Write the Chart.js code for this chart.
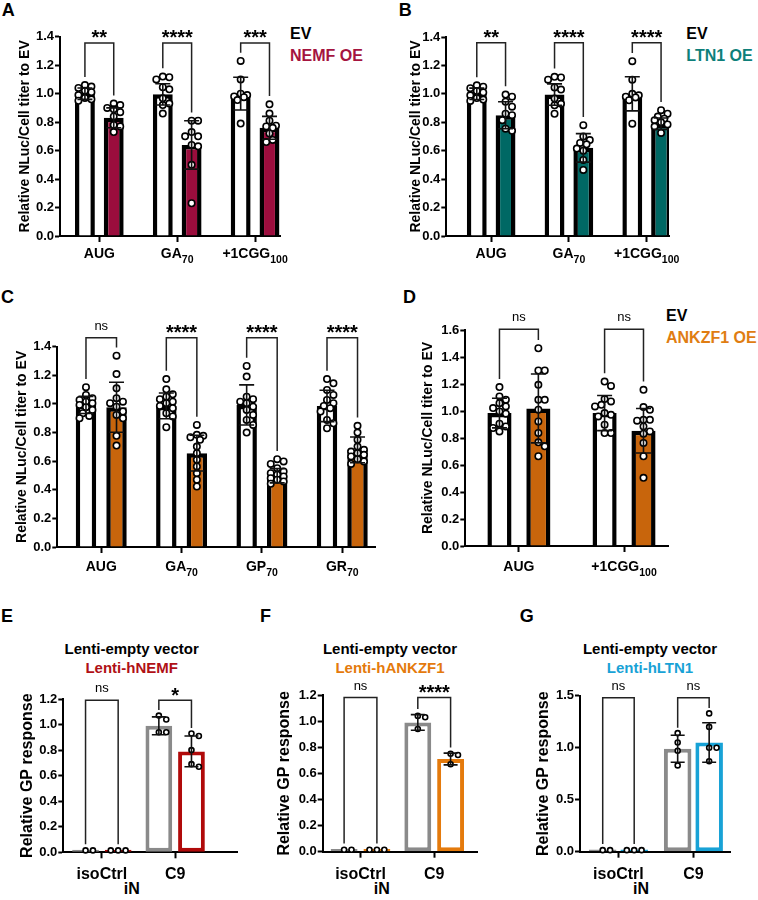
<!DOCTYPE html>
<html>
<head>
<meta charset="utf-8">
<script src="https://cdn.jsdelivr.net/npm/chart.js@4.4.0/dist/chart.umd.min.js"></script>
<style>
  body { margin: 0; background: #fff; }
  #fig { position: relative; width: 758px; height: 900px; overflow: hidden; font-family: "Liberation Sans", Arial, sans-serif; }
  #fig canvas { position: absolute; }
  .t { position: absolute; font-weight: bold; white-space: nowrap; line-height: 1; color: #000; }
  .lt { font-size: 18px; }
  .lg { font-size: 16px; }
  .ti { font-size: 15px; transform: translateX(-50%); }
  .in { font-size: 16px; transform: translateX(-50%); }
</style>
</head>
<body>
<div id="fig">
  <div class="t lt" style="left:1.7px;top:1px">A</div>
  <div class="t lt" style="left:398.7px;top:0.5px">B</div>
  <div class="t lt" style="left:1px;top:287.7px">C</div>
  <div class="t lt" style="left:403px;top:287.7px">D</div>
  <div class="t lt" style="left:1px;top:606.7px">E</div>
  <div class="t lt" style="left:260px;top:606.7px">F</div>
  <div class="t lt" style="left:519.7px;top:606.7px">G</div>

  <div class="t lg" style="left:290px;top:26.2px">EV</div>
  <div class="t lg" style="left:290px;top:47.9px;color:#a5143f">NEMF OE</div>
  <div class="t lg" style="left:686.3px;top:26.2px">EV</div>
  <div class="t lg" style="left:686.3px;top:47.9px;color:#0e7f7a">LTN1 OE</div>
  <div class="t lg" style="left:666px;top:308px">EV</div>
  <div class="t lg" style="left:666px;top:329.6px;color:#e07d12">ANKZF1 OE</div>

  <div class="t ti" style="left:131.7px;top:641.4px">Lenti-empty vector</div>
  <div class="t ti" style="left:131.7px;top:660.3px;color:#b01016">Lenti-hNEMF</div>
  <div class="t ti" style="left:390px;top:641.4px">Lenti-empty vector</div>
  <div class="t ti" style="left:390px;top:660.3px;color:#e47a0c">Lenti-hANKZF1</div>
  <div class="t ti" style="left:650px;top:641.4px">Lenti-empty vector</div>
  <div class="t ti" style="left:650px;top:660.3px;color:#18a2d6">Lenti-hLTN1</div>

  <div class="t in" style="left:131.7px;top:881.4px">iN</div>
  <div class="t in" style="left:381.7px;top:881.4px">iN</div>
  <div class="t in" style="left:641px;top:881.4px">iN</div>
</div>

<script>
// ---------- panel A : EV vs NEMF OE ----------
const aCats = ["AUG", "GA70", "+1CGG100"];
const aEV = [1.00, 0.995, 1.00];
const aOE = [0.83, 0.64, 0.76];
const aEVsd = [0.04, 0.075, 0.115];
const aOEsd = [0.07, 0.17, 0.08];
const aEVpts = [
  [1.06, 1.05, 1.04, 1.02, 1.01, 0.99, 0.97, 0.96, 0.95],
  [1.12, 1.115, 1.10, 1.045, 1.03, 0.967, 0.93, 0.92, 0.86],
  [1.23, 1.10, 1.00, 0.99, 0.98, 0.975, 0.955, 0.79]
];
const aOEpts = [
  [0.93, 0.92, 0.90, 0.89, 0.87, 0.84, 0.78, 0.77, 0.73],
  [0.81, 0.81, 0.73, 0.70, 0.70, 0.64, 0.63, 0.50, 0.23],
  [0.925, 0.86, 0.81, 0.775, 0.77, 0.76, 0.72, 0.675, 0.66]
];
const aSig = ["**", "****", "***"];

// ---------- panel B : EV vs LTN1 OE ----------
const bCats = ["AUG", "GA70", "+1CGG100"];
const bEV = [1.00, 0.995, 1.00];
const bOE = [0.85, 0.62, 0.79];
const bEVsd = [0.04, 0.075, 0.12];
const bOEsd = [0.095, 0.1, 0.04];
const bEVpts = [
  [1.06, 1.05, 1.04, 1.02, 1.01, 0.99, 0.97, 0.96, 0.95],
  [1.12, 1.115, 1.10, 1.045, 1.03, 0.967, 0.93, 0.92, 0.86],
  [1.23, 1.10, 1.00, 0.99, 0.98, 0.975, 0.955, 0.79]
];
const bOEpts = [
  [0.995, 0.98, 0.945, 0.91, 0.86, 0.85, 0.815, 0.755, 0.74],
  [0.78, 0.70, 0.675, 0.655, 0.645, 0.615, 0.60, 0.535, 0.465],
  [0.885, 0.86, 0.84, 0.825, 0.815, 0.80, 0.785, 0.77, 0.725]
];
const bSig = ["**", "****", "****"];

// ---------- panel C : EV vs ANKZF1 OE ----------
const cCats = ["AUG", "GA70", "GP70", "GR70"];
const cEV = [0.993, 0.986, 0.993, 0.986];
const cOE = [0.977, 0.656, 0.498, 0.679];
const cEVsd = [0.06, 0.09, 0.14, 0.11];
const cOEsd = [0.175, 0.125, 0.05, 0.09];
const cEVpts = [
  [1.117, 1.063, 1.04, 1.028, 1.016, 1.005, 0.993, 0.977, 0.958, 0.935, 0.916, 0.90],
  [1.174, 1.102, 1.067, 1.051, 1.033, 1.016, 1.005, 0.986, 0.97, 0.935, 0.912, 0.837],
  [1.265, 1.191, 1.051, 1.033, 1.016, 1.005, 0.981, 0.958, 0.923, 0.888, 0.853, 0.80],
  [1.174, 1.144, 1.098, 1.063, 1.028, 1.005, 0.986, 0.97, 0.947, 0.888, 0.865, 0.83]
];
const cOEpts = [
  [1.337, 1.209, 1.109, 1.04, 1.016, 1.005, 0.981, 0.947, 0.923, 0.90, 0.777, 0.709],
  [0.853, 0.784, 0.777, 0.767, 0.749, 0.702, 0.656, 0.609, 0.563, 0.516, 0.47, 0.423],
  [0.614, 0.598, 0.581, 0.551, 0.528, 0.516, 0.505, 0.493, 0.481, 0.47, 0.458, 0.442],
  [0.847, 0.80, 0.749, 0.702, 0.679, 0.667, 0.656, 0.644, 0.633, 0.614, 0.598, 0.581]
];
const cSig = ["ns", "****", "****", "****"];

// ---------- panel D : EV vs ANKZF1 OE ----------
const dCats = ["AUG", "+1CGG100"];
const dEV = [0.985, 0.985];
const dOE = [1.019, 0.854];
const dEVsd = [0.11, 0.13];
const dOEsd = [0.255, 0.165];
const dEVpts = [
  [1.177, 1.108, 1.083, 1.058, 1.034, 1.022, 0.997, 0.98, 0.906, 0.886, 0.874, 0.849],
  [1.218, 1.186, 1.088, 1.071, 1.046, 1.034, 0.985, 0.972, 0.96, 0.898, 0.837, 0.837]
];
const dOEpts = [
  [1.465, 1.30, 1.30, 1.194, 1.083, 1.083, 1.01, 0.923, 0.837, 0.768, 0.738, 0.665],
  [1.157, 1.029, 1.009, 0.935, 0.935, 0.928, 0.886, 0.849, 0.832, 0.763, 0.665, 0.505]
];
const dSig = ["ns", "ns"];

// ---------- panels E-G : iN GP response ----------
const iCats = ["isoCtrl", "C9"];
const eEV = [0.02, 0.99];
const eOE = [0.02, 0.79];
const eEVsd = [0, 0.07];
const eOEsd = [0, 0.12];
const eEVpts = [[0.015, 0.015], [1.07, 1.04, 0.94, 0.94]];
const eOEpts = [[0.015, 0.015, 0.015], [0.93, 0.91, 0.80, 0.69, 0.67]];
const eSig = ["ns", "*"];

const fEV = [0.02, 0.99];
const fOE = [0.02, 0.71];
const fEVsd = [0, 0.06];
const fOEsd = [0, 0.045];
const fEVpts = [[0.015, 0.015], [1.04, 1.03, 0.94]];
const fOEpts = [[0.015, 0.015, 0.015], [0.75, 0.74, 0.67]];
const fSig = ["ns", "****"];

const gEV = [0.02, 0.99];
const gOE = [0.02, 1.05];
const gEVsd = [0, 0.13];
const gOEsd = [0, 0.19];
const gEVpts = [[0.015, 0.015], [1.14, 1.05, 0.97, 0.83]];
const gOEpts = [[0.015, 0.015, 0.015], [1.33, 1.20, 1.00, 1.00, 0.87]];
const gSig = ["ns", "ns"];

const FONT = '"Liberation Sans", Arial, sans-serif';
Chart.defaults.font.family = FONT;
Chart.defaults.color = "#000";

// spread the dots of one bar sideways so they do not sit on top of each other
function swarm(groups, shift, ppuX, ppuY, sep, maxOff) {
  const out = [];
  const step = sep / 2;
  groups.forEach((vals, i) => {
    const placed = [];
    vals.slice().sort((a, b) => b - a).forEach(v => {
      const py = v * ppuY;
      let best = 0, bestD = -1;
      for (let k = 0; k < 40; k++) {
        const off = (k % 2 ? 1 : -1) * Math.ceil(k / 2) * step;
        if (Math.abs(off) > maxOff) break;
        let d = Infinity;
        placed.forEach(q => { d = Math.min(d, Math.hypot(q.px - off, q.py - py)); });
        if (d >= sep) { best = off; bestD = d; break; }
        if (d > bestD) { bestD = d; best = off; }
      }
      placed.push({ px: best, py: py });
      out.push({ x: i + shift + best / ppuX, y: v });
    });
  });
  return out;
}

function makePanel(p) {
  const g = p.geo;
  const cv = document.createElement("canvas");
  cv.width = g.w; cv.height = g.h;
  cv.style.left = g.left + "px"; cv.style.top = g.top + "px";
  document.getElementById("fig").appendChild(cv);

  const ppuX = (g.w - g.yW - g.padR) / (g.xmax - g.xmin);
  const ppuY = (g.h - g.padT - g.xH) / p.ymax;
  const shift = p.cp / 4;

  const barStyle = { type: "bar", order: 2, borderWidth: p.bw, borderSkipped: p.skip,
    categoryPercentage: p.cp, barPercentage: p.bp };
  const dotStyle = { type: "scatter", order: 1, clip: false, showLine: false,
    pointRadius: p.r, pointHoverRadius: p.r, pointBorderWidth: p.pbw,
    pointBackgroundColor: "#fff", pointBorderColor: "#000" };

  const deco = {
    id: "deco",
    afterDatasetsDraw(chart) {
      const ctx = chart.ctx, ys = chart.scales.y, xs = chart.scales.x;
      const barsEV = chart.getDatasetMeta(0).data, barsOE = chart.getDatasetMeta(1).data;
      ctx.save();
      ctx.strokeStyle = "#111";
      ctx.lineWidth = 1.6;
      // error bars (mean +/- SD)
      [[barsEV, p.ev, p.evSd], [barsOE, p.oe, p.oeSd]].forEach(([els, m, sd]) => {
        els.forEach((el, i) => {
          if (!sd[i]) return;
          const yt = ys.getPixelForValue(m[i] + sd[i]);
          const yb = ys.getPixelForValue(m[i] - sd[i]);
          ctx.beginPath();
          ctx.moveTo(el.x, yt); ctx.lineTo(el.x, yb);
          ctx.moveTo(el.x - p.cap, yt); ctx.lineTo(el.x + p.cap, yt);
          ctx.moveTo(el.x - p.cap, yb); ctx.lineTo(el.x + p.cap, yb);
          ctx.stroke();
        });
      });
      // significance brackets
      ctx.strokeStyle = "#222";
      ctx.lineWidth = 1.5;
      ctx.fillStyle = "#000";
      ctx.textAlign = "center";
      ctx.textBaseline = "alphabetic";
      p.sig.forEach((s, i) => {
        const x1 = barsEV[i].x, x2 = barsOE[i].x;
        const yTop = ys.getPixelForValue(p.sigY);
        const h1 = Math.max(...p.evPts[i], p.ev[i] + p.evSd[i]);
        const h2 = Math.max(...p.oePts[i], p.oe[i] + p.oeSd[i]);
        const l1 = ys.getPixelForValue(h1) - p.r - p.gap;
        const l2 = ys.getPixelForValue(h2) - p.r - p.gap;
        ctx.beginPath();
        ctx.moveTo(x1, l1); ctx.lineTo(x1, yTop); ctx.lineTo(x2, yTop); ctx.lineTo(x2, l2);
        ctx.stroke();
        if (s === "ns") {
          ctx.font = "13px " + FONT;
          ctx.fillText(s, (x1 + x2) / 2, yTop - 8);
        } else {
          ctx.font = "bold 20px " + FONT;
          ctx.fillText(s, (x1 + x2) / 2, yTop + 1.5);
        }
      });
      // category labels, trailing numbers as subscripts where asked
      ctx.textAlign = "left";
      p.cats.forEach((c, i) => {
        const m = p.subs ? c.match(/^(.*?[A-Za-z])(\d+)$/) : null;
        const base = m ? m[1] : c, sub = m ? m[2] : "";
        ctx.font = "bold " + p.lbl + "px " + FONT;
        const wb = ctx.measureText(base).width;
        ctx.font = "bold " + p.sub + "px " + FONT;
        const wsub = sub ? ctx.measureText(sub).width : 0;
        const cx = xs.getPixelForValue(i);
        const by = chart.chartArea.bottom + p.lblOff;
        const sx = cx - (wb + wsub) / 2;
        ctx.font = "bold " + p.lbl + "px " + FONT;
        ctx.fillText(base, sx, by);
        if (sub) {
          ctx.font = "bold " + p.sub + "px " + FONT;
          ctx.fillText(sub, sx + wb, by + 5);
        }
      });
      ctx.restore();
    }
  };

  return new Chart(cv, {
    data: {
      datasets: [
        Object.assign({}, barStyle, { data: p.ev.map((v, i) => ({ x: i, y: v })),
          backgroundColor: p.evFill, borderColor: p.evLine }),
        Object.assign({}, barStyle, { data: p.oe.map((v, i) => ({ x: i, y: v })),
          backgroundColor: p.oeFill, borderColor: p.oeLine }),
        Object.assign({}, dotStyle, { data: swarm(p.evPts, -shift, ppuX, ppuY, p.sep, p.maxOff) }),
        Object.assign({}, dotStyle, { data: swarm(p.oePts, shift, ppuX, ppuY, p.sep, p.maxOff) })
      ]
    },
    options: {
      responsive: false,
      animation: false,
      events: [],
      layout: { padding: { left: 0, top: g.padT, right: g.padR, bottom: 0 } },
      plugins: { legend: { display: false }, tooltip: { enabled: false } },
      scales: {
        x: {
          type: "linear", min: g.xmin, max: g.xmax, offset: false,
          afterBuildTicks: s => { s.ticks = p.cats.map((c, i) => ({ value: i })); },
          afterFit: s => { s.height = g.xH; },
          border: { display: true, color: "#000", width: 2 },
          grid: { drawOnChartArea: false, drawTicks: true, tickLength: 6, tickWidth: 2, color: "#000", offset: false },
          ticks: { display: false }
        },
        y: {
          min: 0, max: p.ymax,
          afterFit: s => { s.width = g.yW; },
          border: { display: true, color: "#000", width: 2 },
          grid: { drawOnChartArea: false, drawTicks: true, tickLength: 5, tickWidth: 2, color: "#000" },
          ticks: { stepSize: p.ystep, autoSkip: false, padding: 1, color: "#000",
            font: { family: FONT, size: 13, weight: "bold" },
            callback: v => Number(v).toFixed(1) },
          title: { display: true, text: p.ytitle, color: "#000",
            font: { family: FONT, size: p.yts, weight: "bold", lineHeight: 1.2 },
            padding: { top: p.ytX - g.left - p.yts * 0.6, bottom: 0 } }
        }
      }
    },
    plugins: [deco]
  });
}

const nlucTitle = "Relative NLuc/Cell titer to EV";
const gpTitle = "Relative GP response";
const topStyle = { ymax: 1.4, ystep: 0.2, ytitle: nlucTitle, yts: 14, bw: 4.5, skip: "start", r: 3.2, pbw: 1.6,
  sep: 6.5, maxOff: 9, cap: 7.5, gap: 5, lbl: 14, sub: 10.5, subs: true,
  evFill: "#fff", evLine: "#000", oeLine: "#000" };
const botStyle = { ystep: 0.2, ytitle: gpTitle, yts: 16, bw: 4, skip: false, r: 2.5, pbw: 1.6,
  sep: 7.5, maxOff: 11, cap: 7, gap: 3, lbl: 16, sub: 11, subs: false, lblOff: 27,
  evFill: "#fff", evLine: "#8a8a8a", oeFill: "#fff" };

makePanel(Object.assign({}, topStyle, {
  geo: { left: 0, top: 0, w: 300, h: 268, yW: 60, padT: 36.7, padR: 20, xH: 32, xmin: -0.505, xmax: 2.32 },
  cats: aCats, ev: aEV, oe: aOE, evSd: aEVsd, oeSd: aOEsd, evPts: aEVpts, oePts: aOEpts, sig: aSig,
  sigY: 1.356, cp: 0.74, bp: 0.69, ytX: 25, lblOff: 22.3, oeFill: "#9b0d3d"
}));
makePanel(Object.assign({}, topStyle, {
  geo: { left: 380, top: 0, w: 309.7, h: 268, yW: 66.3, padT: 37, padR: 20, xH: 32, xmin: -0.577, xmax: 2.287 },
  cats: bCats, ev: bEV, oe: bOE, evSd: bEVsd, oeSd: bOEsd, evPts: bEVpts, oePts: bOEpts, sig: bSig,
  sigY: 1.36, cp: 0.74, bp: 0.69, ytX: 416, lblOff: 22, oeFill: "#006864"
}));
makePanel(Object.assign({}, topStyle, {
  geo: { left: 0, top: 300, w: 380, h: 279.3, yW: 57.3, padT: 46.7, padR: 2, xH: 32, xmin: -0.547, xmax: 3.41 },
  cats: cCats, ev: cEV, oe: cOE, evSd: cEVsd, oeSd: cOEsd, evPts: cEVpts, oePts: cOEpts, sig: cSig,
  sigY: 1.463, cp: 0.76, bp: 0.67, ytX: 22.5, lblOff: 24.4, oeFill: "#c8650c"
}));
makePanel(Object.assign({}, topStyle, {
  geo: { left: 380, top: 300, w: 293.3, h: 278.7, yW: 85.3, padT: 30, padR: 2, xH: 32, xmin: -0.51, xmax: 1.42 },
  ymax: 1.6,
  cats: dCats, ev: dEV, oe: dOE, evSd: dEVsd, oeSd: dOEsd, evPts: dEVpts, oePts: dOEpts, sig: dSig,
  sigY: 1.605, cp: 0.74, bp: 0.62, ytX: 428, lblOff: 25, oeFill: "#c8650c", maxOff: 11
}));
makePanel(Object.assign({}, botStyle, {
  geo: { left: 0, top: 675, w: 242, h: 225, yW: 63.3, padT: 24, padR: 2, xH: 47.7, xmin: -0.526, xmax: 1.856 },
  ymax: 1.2,
  cats: iCats, ev: eEV, oe: eOE, evSd: eEVsd, oeSd: eOEsd, evPts: eEVpts, oePts: eOEpts, sig: eSig,
  sigY: 1.19, cp: 0.89, bp: 0.82, ytX: 28, oeLine: "#b00a0a"
}));
makePanel(Object.assign({}, botStyle, {
  geo: { left: 250, top: 675, w: 232, h: 225, yW: 72.7, padT: 20, padR: 2, xH: 48.3, xmin: -0.513, xmax: 1.593 },
  ymax: 1.2,
  cats: iCats, ev: fEV, oe: fOE, evSd: fEVsd, oeSd: fOEsd, evPts: fEVpts, oePts: fOEpts, sig: fSig,
  sigY: 1.18, cp: 0.89, bp: 0.82, ytX: 285, oeLine: "#e47a0c"
}));
makePanel(Object.assign({}, botStyle, {
  geo: { left: 500, top: 675, w: 235, h: 225, yW: 80, padT: 20.7, padR: 2, xH: 48.3, xmin: -0.513, xmax: 1.5 },
  ymax: 1.5, ystep: 0.5,
  cats: iCats, ev: gEV, oe: gOE, evSd: gEVsd, oeSd: gOEsd, evPts: gEVpts, oePts: gOEpts, sig: gSig,
  sigY: 1.48, cp: 0.84, bp: 0.875, ytX: 543.5, oeLine: "#18a2d6"
}));
</script>
</body>
</html>
